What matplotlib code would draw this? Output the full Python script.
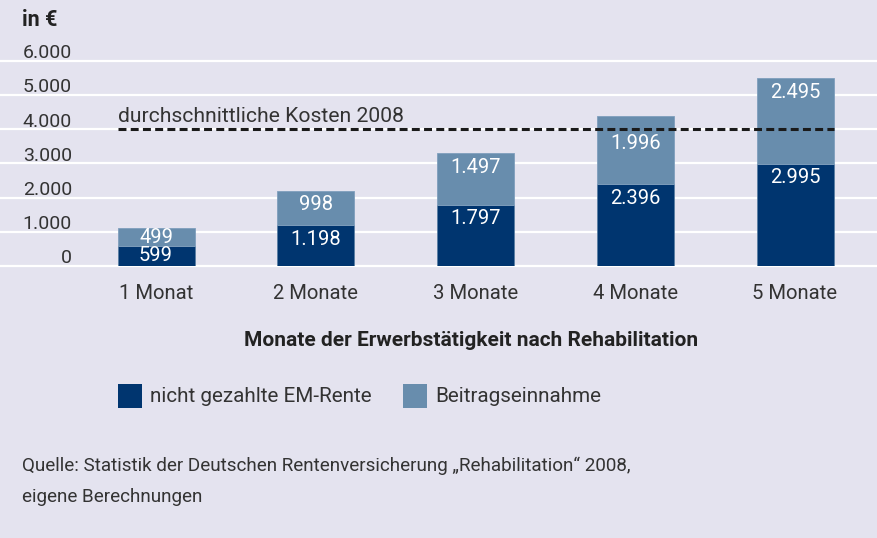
import matplotlib
matplotlib.use("Agg")
import matplotlib.pyplot as plt
import matplotlib.patches as patches
import matplotlib.transforms as mtransforms

# data
months = ["1 Monat", "2 Monate", "3 Monate", "4 Monate", "5 Monate"]
em_rente = [599, 1198, 1797, 2396, 2995]
beitrag = [499, 998, 1497, 1996, 2495]
avg_cost = 4000
y_ticks = [0, 1000, 2000, 3000, 4000, 5000, 6000]

BG = "#e4e3ef"
NAVY = "#00356f"
LIGHT = "#688dad"
TXT = "#333333"

plt.rcParams["font.family"] = ["Roboto", "DejaVu Sans"]
FS = 14


def de(v):
    return f"{v:,}".replace(",", ".")


W, H = 877, 538
fig = plt.figure(figsize=(W / 100, H / 100), dpi=100, facecolor=BG)

# axes: y=0 at 266px, y=6000 at 61px
ax = fig.add_axes([0, 1 - 266 / H, 1, 205 / H])
ax.set_facecolor(BG)
ax.set_ylim(0, 6000)
ax.set_xlim(-156 / 159.75, (W - 156) / 159.75)
for s in ax.spines.values():
    s.set_visible(False)
ax.set_xticks([])
ax.set_yticks([])

# gridlines + y labels
blend = mtransforms.blended_transform_factory(ax.transAxes, ax.transData)
for v in y_ticks:
    ax.axhline(v, color="white", lw=1.6, zorder=0, clip_on=False)
    ax.annotate(de(v), xy=(72 / W, v), xycoords=blend, xytext=(0, 2),
                textcoords="offset points", ha="right", va="baseline",
                fontsize=FS, color=TXT)

x = list(range(len(months)))
bw = 77 / 159.75
ax.bar(x, em_rente, width=bw, color=NAVY, edgecolor="#5a7ea3", lw=0.6, zorder=2)
ax.bar(x, beitrag, width=bw, bottom=em_rente, color=LIGHT, edgecolor="#7f9fbd",
       lw=0.6, zorder=2)

# value labels in the segments
px = 205 / 6000  # pixels per unit
for i in x:
    for bottom, h in [(0, em_rente[i]), (em_rente[i], beitrag[i])]:
        top = bottom + h
        off = min(14, h * px / 2)
        ypos = top - off / px
        if abs(ypos - avg_cost) < 8 / px:
            ypos = avg_cost - 14 / px
        ax.text(i, ypos, de(h), ha="center", va="center", color="white",
                fontsize=14.5, zorder=4)

# average cost line
ax.plot([x[0] - bw / 2, x[-1] + bw / 2], [avg_cost, avg_cost], color="#1a1a1a",
        lw=2.2, dashes=(2.6, 1.4), zorder=3)
ax.annotate("durchschnittliche Kosten 2008", xy=(x[0] - bw / 2, avg_cost),
            xytext=(0, 5), textcoords="offset points", ha="left", va="baseline",
            fontsize=15.2, color=TXT)

# category labels
for i, m in enumerate(months):
    ax.annotate(m, xy=(i, 0), xytext=(0, -19.5), textcoords="offset points",
                ha="center", va="center", fontsize=14.6, color=TXT)

fig.text(22 / W, 1 - 20 / H, "in €", fontsize=15.5, fontweight="bold", color="#222222",
         ha="left", va="center")
fig.text(471 / W, 1 - 340 / H, "Monate der Erwerbstätigkeit nach Rehabilitation",
         fontsize=15, fontweight="bold", color="#222222", ha="center", va="center")

# legend
for x0, col, lab in [(118, NAVY, "nicht gezahlte EM-Rente"), (403, LIGHT, "Beitragseinnahme")]:
    fig.patches.append(patches.Rectangle((x0 / W, 1 - 408 / H), 24 / W, 24 / H,
                                         transform=fig.transFigure, facecolor=col,
                                         edgecolor="none"))
    fig.text((x0 + 32) / W, 1 - 396 / H, lab, fontsize=14.9, color=TXT,
             ha="left", va="center")

fig.text(22 / W, 1 - 466 / H,
         "Quelle: Statistik der Deutschen Rentenversicherung \u201eRehabilitation\u201c 2008,",
         fontsize=13.6, color=TXT, ha="left", va="center")
fig.text(22 / W, 1 - 497 / H, "eigene Berechnungen", fontsize=13.6, color=TXT,
         ha="left", va="center")

fig.savefig("out.png", dpi=100, facecolor=BG)
